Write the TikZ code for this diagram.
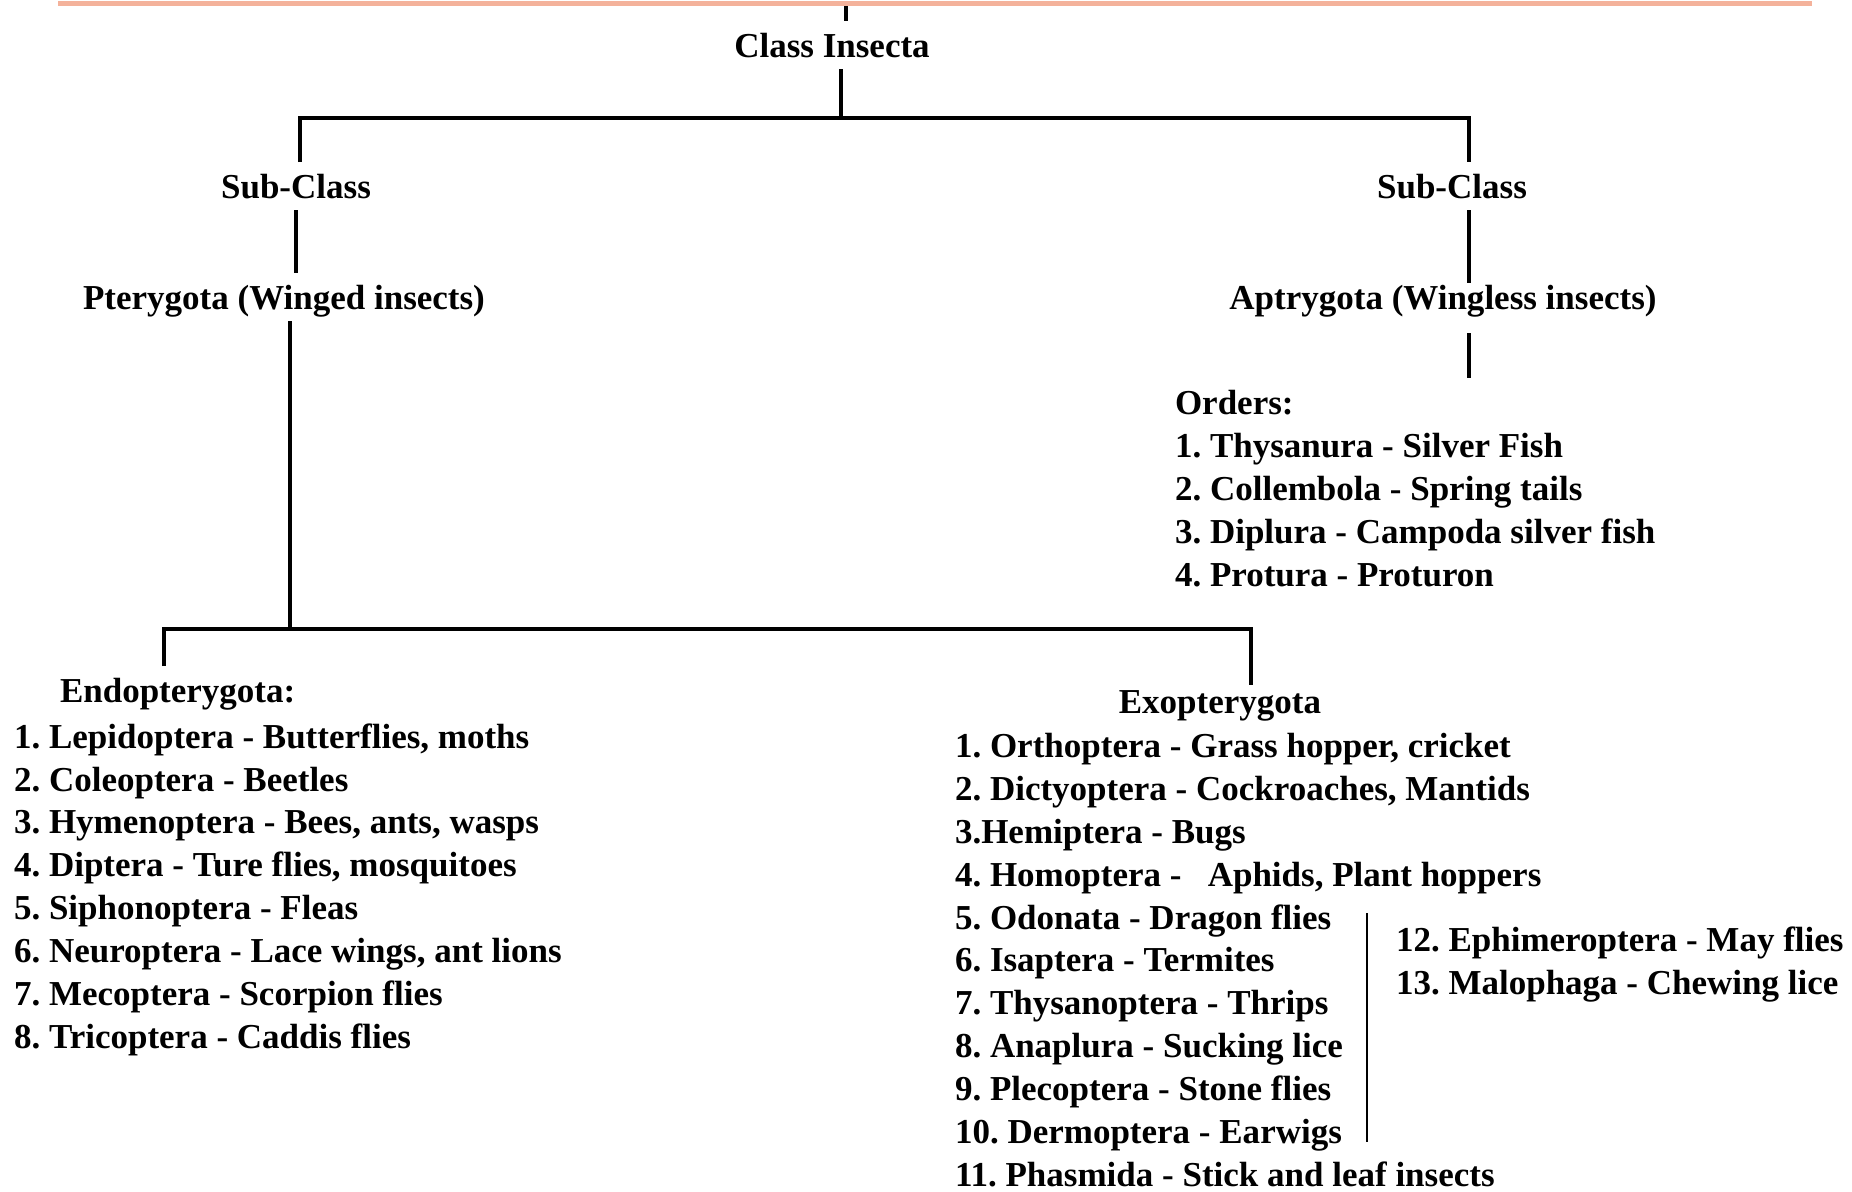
\documentclass[tikz,border=0pt]{standalone}
\usepackage{fontspec}
\setmainfont{Liberation Serif}
\usetikzlibrary{positioning,calc}
\definecolor{salmon}{RGB}{244,178,155}

\begin{document}
\begin{tikzpicture}[
  lbl/.style={font=\fontsize{9.96}{12.18}\selectfont\bfseries\frenchspacing, inner sep=0pt, outer sep=1.2mm, text height=0.68em, text depth=0pt},
  lst/.style={font=\fontsize{9.96}{12.18}\selectfont\bfseries\frenchspacing, inner sep=0pt, outer sep=1.2mm, align=left},
  link/.style={line width=1.2pt}]
\useasboundingbox (0,0) rectangle (18.52,-11.91);
\node[fill=salmon, inner sep=0pt, minimum width=17.54cm, minimum height=0.5mm, anchor=north west] (bar) at (0.57,0) {};

\node[lbl, anchor=base] (insecta) at (8.32,-0.57) {Class Insecta};
\node[lbl, anchor=base] (subL) at (2.96,-1.98) {Sub-Class};
\node[lbl, anchor=base] (subR) at (14.52,-1.98) {Sub-Class};
\node[lbl, anchor=base] (ptery) at (2.84,-3.09) {Pterygota (Winged insects)};
\node[lbl, anchor=base] (aptry) at (14.43,-3.09) {Aptrygota (Wingless insects)};
% lists: base = last line
\node[lst, anchor=base west] (orders) at (11.63,-5.86) {Orders:\\1. Thysanura - Silver Fish\\2. Collembola - Spring tails\\3. Diplura - Campoda silver fish\\4. Protura - Proturon};

\node[lbl, anchor=base west] (endo) at (0.48,-7.02) {Endopterygota:};
\node[lst, anchor=base west] (endoList) at (0.02,-10.48) {1. Lepidoptera - Butterflies, moths\\2. Coleoptera - Beetles\\3. Hymenoptera - Bees, ants, wasps\\4. Diptera - Ture flies, mosquitoes\\5. Siphonoptera - Fleas\\6. Neuroptera - Lace wings, ant lions\\7. Mecoptera - Scorpion flies\\8. Tricoptera - Caddis flies};

\node[lbl, anchor=base] (exo) at (12.20,-7.13) {Exopterygota};
\node[lst, anchor=base west] (exoList) at (9.43,-11.86) {1. Orthoptera - Grass hopper, cricket\\2. Dictyoptera - Cockroaches, Mantids\\3.Hemiptera - Bugs\\4. Homoptera -\ \ \ Aphids, Plant hoppers\\5. Odonata - Dragon flies\\6. Isaptera - Termites\\7. Thysanoptera - Thrips\\8. Anaplura - Sucking lice\\9. Plecoptera - Stone flies\\10. Dermoptera - Earwigs\\11. Phasmida - Stick and leaf insects};
\node[lst, anchor=base west] (exoMore) at (13.84,-9.94) {12. Ephimeroptera - May flies\\13. Malophaga - Chewing lice};

% junctions
\coordinate (tick) at (8.46,-0.21);
\coordinate (top) at (8.41,-1.18);
\coordinate (topL) at (3.00,-1.18);
\coordinate (topR) at (14.69,-1.18);
\coordinate (mid) at (2.90,-6.29);
\coordinate (midL) at (1.64,-6.29);
\coordinate (midR) at (12.51,-6.29);
\coordinate (sepT) at (13.67,-9.13);
\coordinate (sepB) at (13.67,-11.42);

\draw[link] (bar.south -| tick) -- (tick);
\draw[link] (insecta.south -| top) -- (top);
\draw[link] (subL.north -| topL) |- (topR) -- (subR.north -| topR);
\draw[link] (subL.south) -- (subL.south |- ptery.north);
\draw[link, shorten >=-1mm] (subR.south -| topR) -- (aptry.north -| topR);
\draw[link, shorten <=1.2mm] (aptry.south -| topR) -- (orders.north -| topR);
\draw[link] (ptery.south -| mid) -- (mid);
\draw[link, shorten >=-0.8mm] (endo.north -| midL) |- (midR) -- (exo.north -| midR);
\draw[line width=0.5pt] (sepT) -- (sepB);
\end{tikzpicture}
\end{document}
